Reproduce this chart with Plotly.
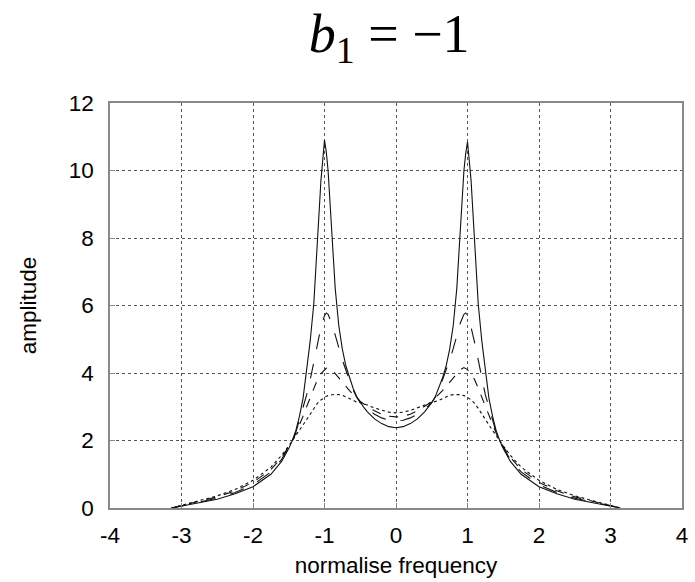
import plotly.graph_objects as go

# normalised frequency sample points
freq = [-3.14, -3.0, -2.75, -2.5, -2.25, -2.0, -1.75, -1.6, -1.5, -1.45, -1.4, -1.35, -1.3,
        -1.25, -1.2, -1.15, -1.1, -1.05, -1.0, -0.975, -0.95, -0.9, -0.85, -0.8, -0.75, -0.7,
        -0.65, -0.6, -0.55, -0.5, -0.45, -0.4, -0.3, -0.2, -0.1, 0.0,
        0.1, 0.2, 0.3, 0.4, 0.45, 0.5, 0.55, 0.6, 0.65, 0.7, 0.75, 0.8, 0.85, 0.9, 0.95,
        0.975, 1.0, 1.05, 1.1, 1.15, 1.2, 1.25, 1.3, 1.35, 1.4, 1.45, 1.5, 1.6, 1.75, 2.0,
        2.25, 2.5, 2.75, 3.0, 3.14]

amp_solid = [0, 0.06, 0.16, 0.26, 0.42, 0.63, 1.0, 1.38, 1.76, 2.0, 2.3, 2.72, 3.25, 4.05, 4.95,
             6.05, 7.7, 9.7, 10.9, 10.55, 10.0, 8.25, 6.5, 5.4, 4.7, 4.2, 3.85, 3.55, 3.3, 3.12,
             2.98, 2.85, 2.64, 2.5, 2.41, 2.38,
             2.41, 2.5, 2.64, 2.85, 2.98, 3.12, 3.3, 3.55, 3.85, 4.2, 4.7, 5.4, 6.5, 8.25, 10.0,
             10.5, 10.85, 9.7, 7.7, 6.05, 4.95, 4.05, 3.25, 2.72, 2.3, 2.0, 1.76, 1.38, 1.0,
             0.63, 0.42, 0.26, 0.16, 0.06, 0]

amp_longdash = [0, 0.065, 0.18, 0.29, 0.46, 0.69, 1.07, 1.44, 1.8, 1.98, 2.25, 2.6, 2.98, 3.35,
                3.8, 4.35, 4.9, 5.35, 5.7, 5.78, 5.74, 5.48, 5.12, 4.72, 4.38, 4.08, 3.78, 3.5,
                3.28, 3.13, 3.02, 2.94, 2.78, 2.67, 2.6, 2.58,
                2.6, 2.67, 2.78, 2.94, 3.02, 3.13, 3.28, 3.5, 3.78, 4.08, 4.38, 4.72, 5.12, 5.48,
                5.74, 5.78, 5.7, 5.35, 4.9, 4.35, 3.8, 3.35, 2.98, 2.6, 2.25, 1.98, 1.8, 1.44,
                1.07, 0.69, 0.46, 0.29, 0.18, 0.065, 0]

amp_dash = [0, 0.07, 0.2, 0.33, 0.51, 0.76, 1.14, 1.5, 1.82, 1.98, 2.22, 2.45, 2.72, 3.0, 3.28,
            3.55, 3.8, 3.98, 4.1, 4.14, 4.16, 4.1, 3.98, 3.85, 3.73, 3.6, 3.48, 3.37, 3.26, 3.16,
            3.08, 3.0, 2.88, 2.78, 2.72, 2.70,
            2.72, 2.78, 2.88, 3.0, 3.08, 3.16, 3.26, 3.37, 3.48, 3.6, 3.73, 3.85, 3.98, 4.1,
            4.16, 4.14, 4.1, 3.98, 3.8, 3.55, 3.28, 3.0, 2.72, 2.45, 2.22, 1.98, 1.82, 1.5,
            1.14, 0.76, 0.51, 0.33, 0.2, 0.07, 0]

amp_dot = [0, 0.075, 0.21, 0.36, 0.55, 0.82, 1.21, 1.56, 1.84, 1.99, 2.15, 2.3, 2.45, 2.62, 2.78,
           2.95, 3.1, 3.2, 3.28, 3.31, 3.33, 3.36, 3.37, 3.36, 3.34, 3.29, 3.24, 3.19, 3.14, 3.12,
           3.09, 3.05, 2.96, 2.89, 2.84, 2.82,
           2.84, 2.89, 2.96, 3.05, 3.09, 3.12, 3.14, 3.19, 3.24, 3.29, 3.34, 3.36, 3.37, 3.36,
           3.33, 3.31, 3.28, 3.2, 3.1, 2.95, 2.78, 2.62, 2.45, 2.3, 2.15, 1.99, 1.84, 1.56,
           1.21, 0.82, 0.55, 0.36, 0.21, 0.075, 0]

x_ticks = [-4, -3, -2, -1, 0, 1, 2, 3, 4]
x_tick_labels = ["-4", "-3", "-2", "-1", "0", "1", "2", "3", "4"]
y_ticks = [0, 2, 4, 6, 8, 10, 12]
y_tick_labels = ["0", "2", "4", "6", "8", "10", "12"]

series = [
    (amp_solid, "solid"),
    (amp_longdash, "longdash"),
    (amp_dash, "dash"),
    (amp_dot, "dot"),
]

fig = go.Figure()
for vals, dash in series:
    fig.add_trace(go.Scatter(x=freq, y=vals, mode="lines",
                             line=dict(color="#111111", width=1.1, dash=dash),
                             showlegend=False))

axis_font = dict(family="Liberation Sans, Arial, sans-serif", size=22.5, color="#000000")

fig.update_layout(
    width=695, height=582,
    margin=dict(l=110, r=13, t=103, b=74, autoexpand=False),
    paper_bgcolor="white", plot_bgcolor="white",
    title=dict(text="<i>b</i><sub>1</sub> = \u22121",
               font=dict(family="Liberation Serif, DejaVu Serif, serif", size=54, color="#000000"),
               x=0.56, xref="container", xanchor="center",
               y=0.943, yref="container", yanchor="middle"),
    xaxis=dict(range=[-4, 4], tickvals=x_ticks, ticktext=x_tick_labels, automargin=False,
               showgrid=True, gridcolor="#555555", griddash="dot", gridwidth=1,
               showline=True, linecolor="#888888", linewidth=1.5, mirror=True,
               ticks="inside", ticklen=5, tickcolor="#888888",
               ticklabelstandoff=6, tickfont=axis_font, zeroline=False,
               title=dict(text="normalise frequency", font=axis_font, standoff=10)),
    yaxis=dict(range=[0, 12], tickvals=y_ticks, ticktext=y_tick_labels, automargin=False,
               showgrid=True, gridcolor="#555555", griddash="dot", gridwidth=1,
               showline=True, linecolor="#888888", linewidth=1.5, mirror=True,
               ticks="inside", ticklen=5, tickcolor="#888888",
               ticklabelstandoff=10, tickfont=axis_font, zeroline=False,
               title=dict(text="amplitude", font=axis_font, standoff=26)),
)

fig.write_html("out.html")
